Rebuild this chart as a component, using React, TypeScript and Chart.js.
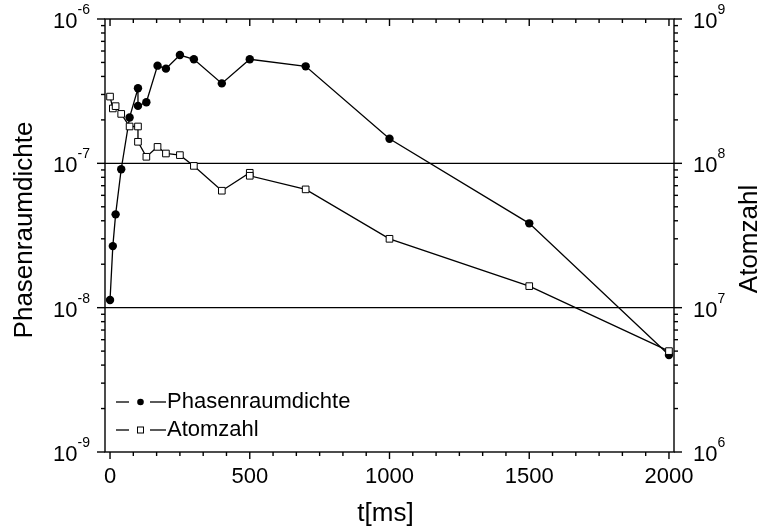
import React, { useEffect, useRef } from "react";
import { Chart, registerables } from "chart.js";

Chart.register(...registerables);

const FONT = '"Liberation Sans", Arial, Helvetica, sans-serif';

// Phasenraumdichte over time (left axis)
const phaseTimes = [0, 10, 20, 40, 70, 100, 100, 130, 170, 200, 250, 300, 400, 500, 700, 1000, 1500, 2000];
const phaseValues = [
  1.13e-8, 2.67e-8, 4.43e-8, 9.1e-8, 2.08e-7, 3.31e-7, 2.5e-7, 2.65e-7, 4.75e-7, 4.53e-7,
  5.63e-7, 5.26e-7, 3.58e-7, 5.26e-7, 4.7e-7, 1.48e-7, 3.84e-8, 4.7e-9,
];

// Atomzahl over time (right axis)
const atomTimes = [0, 10, 20, 40, 70, 100, 100, 130, 170, 200, 250, 300, 400, 500, 500, 700, 1000, 1500, 2000];
const atomValues = [
  2.9e8, 2.4e8, 2.49e8, 2.2e8, 1.8e8, 1.8e8, 1.41e8, 1.11e8, 1.3e8, 1.17e8, 1.14e8, 9.6e7,
  6.46e7, 8.6e7, 8.2e7, 6.6e7, 3.0e7, 1.41e7, 5.0e6,
];

// Axis ticks and labels
const timeTicks = [0, 500, 1000, 1500, 2000];
const timeMinorPerMajor = 6;
const phaseDecades = [-9, -8, -7, -6];
const atomDecades = [6, 7, 8, 9];
const gridDecades = [-8, -7];

const xTitle = "t[ms]";
const leftTitle = "Phasenraumdichte";
const rightTitle = "Atomzahl";

function line(ctx: CanvasRenderingContext2D, x1: number, y1: number, x2: number, y2: number) {
  ctx.beginPath();
  ctx.moveTo(x1, y1);
  ctx.lineTo(x2, y2);
  ctx.stroke();
}

function drawPower(
  ctx: CanvasRenderingContext2D,
  exp: number,
  anchorX: number,
  y: number,
  align: "left" | "right"
) {
  const base = "10";
  const sup = String(exp);
  ctx.textAlign = "left";
  ctx.textBaseline = "alphabetic";
  ctx.font = `22px ${FONT}`;
  const wb = ctx.measureText(base).width;
  ctx.font = `14px ${FONT}`;
  const ws = ctx.measureText(sup).width;
  const x0 = align === "right" ? anchorX - wb - ws : anchorX;
  ctx.font = `22px ${FONT}`;
  ctx.fillText(base, x0, y + 9);
  ctx.font = `14px ${FONT}`;
  ctx.fillText(sup, x0 + wb, y - 5);
}

const framePlugin = {
  id: "frame",
  beforeDatasetsDraw(chart: any) {
    const { ctx, chartArea: a, scales } = chart;
    ctx.save();
    ctx.strokeStyle = "#000";
    ctx.lineWidth = 1.4;
    for (const e of gridDecades) {
      const y = scales.y.getPixelForValue(Math.pow(10, e));
      line(ctx, a.left, y, a.right, y);
    }
    ctx.restore();
  },
  afterDraw(chart: any) {
    const { ctx, chartArea: a, scales } = chart;
    const sx = scales.x;
    const sy = scales.y;
    const sy1 = scales.y1;
    ctx.save();
    ctx.strokeStyle = "#000";
    ctx.fillStyle = "#000";
    ctx.lineWidth = 1.4;
    ctx.strokeRect(a.left, a.top, a.right - a.left, a.bottom - a.top);

    // time axis ticks, bottom (outward) and top (inward)
    const step = (timeTicks[1] - timeTicks[0]) / timeMinorPerMajor;
    const nSteps = Math.round((timeTicks[timeTicks.length - 1] - timeTicks[0]) / step);
    for (let i = 0; i <= nSteps; i++) {
      const t = timeTicks[0] + i * step;
      const x = sx.getPixelForValue(t);
      const len = i % timeMinorPerMajor === 0 ? 7 : 4;
      line(ctx, x, a.bottom, x, a.bottom + len);
      line(ctx, x, a.top, x, a.top + len);
    }
    ctx.font = `22px ${FONT}`;
    ctx.textAlign = "center";
    ctx.textBaseline = "alphabetic";
    for (const t of timeTicks) {
      ctx.fillText(String(t), sx.getPixelForValue(t), a.bottom + 31);
    }

    // logarithmic ticks on both sides
    const logTicks = (scale: any, decades: number[], side: "left" | "right") => {
      for (let d = 0; d < decades.length; d++) {
        for (let k = 1; k <= 9; k++) {
          if (d === decades.length - 1 && k > 1) break;
          const y = scale.getPixelForValue(k * Math.pow(10, decades[d]));
          const len = k === 1 ? 8 : 4;
          if (side === "left") line(ctx, a.left - len, y, a.left, y);
          else line(ctx, a.right, y, a.right + len, y);
        }
      }
    };
    logTicks(sy, phaseDecades, "left");
    logTicks(sy1, atomDecades, "right");
    for (const e of phaseDecades) {
      drawPower(ctx, e, a.left - 15, sy.getPixelForValue(Math.pow(10, e)), "right");
    }
    for (const e of atomDecades) {
      drawPower(ctx, e, a.right + 19, sy1.getPixelForValue(Math.pow(10, e)), "left");
    }

    // axis titles
    ctx.font = `26px ${FONT}`;
    ctx.textAlign = "center";
    ctx.textBaseline = "alphabetic";
    ctx.fillText(xTitle, (a.left + a.right) / 2 - 4, a.bottom + 69);
    ctx.save();
    ctx.translate(32, 230);
    ctx.rotate(-Math.PI / 2);
    ctx.fillText(leftTitle, 0, 0);
    ctx.restore();
    ctx.save();
    ctx.translate(757, 239);
    ctx.rotate(-Math.PI / 2);
    ctx.fillText(rightTitle, 0, 0);
    ctx.restore();

    // legend
    const lx = a.left + 11;
    const rows = [
      { y: 402, text: leftTitle, kind: "circle" },
      { y: 430, text: rightTitle, kind: "rect" },
    ];
    ctx.lineWidth = 1.3;
    ctx.font = `22px ${FONT}`;
    ctx.textAlign = "left";
    ctx.textBaseline = "alphabetic";
    for (const r of rows) {
      line(ctx, lx, r.y, lx + 13, r.y);
      line(ctx, lx + 34, r.y, lx + 50, r.y);
      const cx = lx + 24.5;
      if (r.kind === "circle") {
        ctx.beginPath();
        ctx.arc(cx, r.y, 3.3, 0, Math.PI * 2);
        ctx.fill();
      } else {
        ctx.fillStyle = "#fff";
        ctx.fillRect(cx - 3, r.y - 3, 6, 6);
        ctx.fillStyle = "#000";
        ctx.lineWidth = 1;
        ctx.strokeRect(cx - 3, r.y - 3, 6, 6);
        ctx.lineWidth = 1.3;
      }
      ctx.fillText(r.text, lx + 51, r.y + 6);
    }
    ctx.restore();
  },
};

export default function App() {
  const canvasRef = useRef<HTMLCanvasElement | null>(null);

  useEffect(() => {
    const canvas = canvasRef.current;
    if (!canvas) return;
    const chart = new Chart(canvas, {
      type: "line",
      data: {
        datasets: [
          {
            label: rightTitle,
            data: atomTimes.map((t, i) => ({ x: t, y: atomValues[i] })),
            yAxisID: "y1",
            borderColor: "#000",
            borderWidth: 1.3,
            pointStyle: "rect",
            pointRadius: 4.7,
            pointBackgroundColor: "#fff",
            pointBorderColor: "#000",
            pointBorderWidth: 1,
            tension: 0,
            order: 0,
          },
          {
            label: leftTitle,
            data: phaseTimes.map((t, i) => ({ x: t, y: phaseValues[i] })),
            yAxisID: "y",
            borderColor: "#000",
            borderWidth: 1.3,
            pointStyle: "circle",
            pointRadius: 4.2,
            pointBackgroundColor: "#000",
            pointBorderColor: "#000",
            pointBorderWidth: 0,
            tension: 0,
            order: 1,
          },
        ],
      },
      options: {
        responsive: false,
        maintainAspectRatio: false,
        animation: false,
        devicePixelRatio: 1,
        layout: { autoPadding: false, padding: { left: 105, right: 85, top: 19, bottom: 80 } },
        plugins: { legend: { display: false }, tooltip: { enabled: false } },
        scales: {
          x: { type: "linear", min: -18, max: 2018, display: false },
          y: { type: "logarithmic", min: 1e-9, max: 1e-6, display: false, position: "left" },
          y1: { type: "logarithmic", min: 1e6, max: 1e9, display: false, position: "right" },
        },
      },
      plugins: [framePlugin],
    } as any);
    return () => chart.destroy();
  }, []);

  return (
    <div style={{ position: "absolute", left: 0, top: 0, width: 759, height: 532, background: "#fff" }}>
      <canvas ref={canvasRef} width={759} height={532} style={{ display: "block" }} />
    </div>
  );
}
